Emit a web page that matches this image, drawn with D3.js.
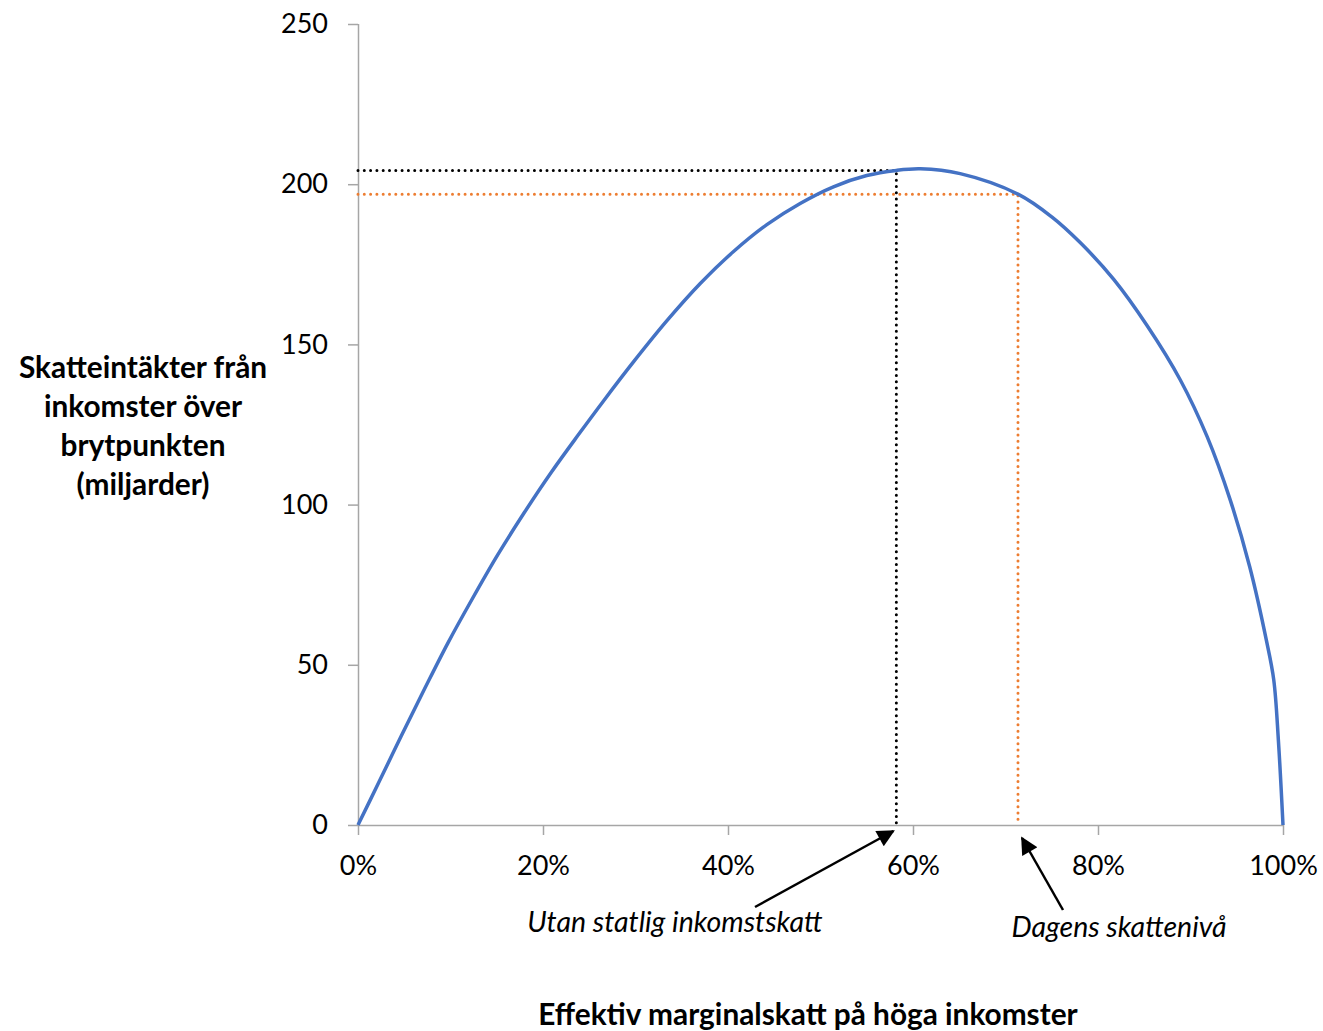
<!DOCTYPE html>
<html lang="sv">
<head>
<meta charset="UTF-8">
<title>Lafferkurva</title>
<script src="https://d3js.org/d3.v7.min.js"></script>
<style>
  body{margin:0;background:#fff;}
  svg{display:block;font-family:Lato,"Open Sans",sans-serif;}
</style>
</head>
<body>
<svg width="1323" height="1031"></svg>
<script>
// curve: marginal tax rate (share) -> revenue (miljarder)
const taxRate = [0, 0.022, 0.047, 0.072, 0.097, 0.123, 0.151, 0.18, 0.209, 0.238, 0.265, 0.298, 0.334, 0.37, 0.406, 0.442, 0.478, 0.514, 0.55, 0.582, 0.608, 0.651, 0.7135, 0.75, 0.781, 0.817, 0.853, 0.889, 0.918, 0.943, 0.964, 0.982, 0.99, 0.995, 1.0]
const revenue = [0, 13.0, 27.9, 42.5, 56.7, 70.3, 84.3, 97.6, 110.1, 121.7, 132.2, 144.6, 157.4, 169.0, 179.0, 187.4, 194.0, 199.2, 202.7, 204.3, 204.8, 203.3, 196.9, 189.8, 181.7, 170.3, 155.9, 138.9, 121.2, 101.4, 80.6, 57.7, 45.3, 26.5, 0]

const yTicks = [0, 50, 100, 150, 200, 250]
const xTicks = [0, 0.2, 0.4, 0.6, 0.8, 1.0]

// the two marked points
const noStateTax = {x: 0.582, y: 204.3}
const todayLevel = {x: 0.7135, y: 196.9}

const yTitle = ["Skatteintäkter från", "inkomster över", "brytpunkten", "(miljarder)"]
const xTitle = "Effektiv marginalskatt på höga inkomster"

const svg = d3.select("svg")
const x = d3.scaleLinear().domain([0, 1]).range([358, 1283])
const y = d3.scaleLinear().domain([0, 250]).range([825, 24])

// axes
const gx = svg.append("g").attr("transform", "translate(0,825)")
    .call(d3.axisBottom(x).tickValues(xTicks).tickFormat(d3.format(".0%")).tickSize(10).tickPadding(12))
const gy = svg.append("g").attr("transform", "translate(358,0)")
    .call(d3.axisLeft(y).tickValues(yTicks).tickSize(10).tickPadding(20))
svg.selectAll("g").attr("font-family", null).attr("font-size", 27)
svg.selectAll(".domain, .tick line").attr("stroke", "#a6a6a6").attr("stroke-width", 1.5)
gx.select(".domain").attr("d", "M358,0.5H1283.5")
gy.select(".domain").attr("d", "M0.5,24V825")
gx.selectAll(".tick text").attr("dy", "1.05em")

// dotted guide lines
const guides = [
  {p: noStateTax, color: "#000"},
  {p: todayLevel, color: "#ed7d31"}
]
guides.forEach(g => {
  svg.append("path")
    .attr("d", `M${x(0)},${y(g.p.y)}H${x(g.p.x)}V${y(0)}`)
    .attr("fill", "none")
    .attr("stroke", g.color)
    .attr("stroke-width", 3)
    .attr("stroke-linecap", "round")
    .attr("stroke-dasharray", "0 6.3")
})

// curve
const pts = taxRate.map((t, i) => [t, revenue[i]])
svg.append("path")
  .datum(pts)
  .attr("d", d3.line().x(d => x(d[0])).y(d => y(d[1])).curve(d3.curveCatmullRom.alpha(0.5)))
  .attr("fill", "none")
  .attr("stroke", "#4472c4")
  .attr("stroke-width", 3.5)

// arrows
svg.append("defs").append("marker")
  .attr("id", "head").attr("viewBox", "0 0 10 10")
  .attr("refX", 9).attr("refY", 5)
  .attr("markerWidth", 8).attr("markerHeight", 7).attr("markerUnits", "strokeWidth")
  .attr("orient", "auto")
  .append("path").attr("d", "M0,0L10,5L0,10z").attr("fill", "#000")

const arrows = [
  {from: [755, 907], to: [x(noStateTax.x) - 3, 831], label: "Utan statlig inkomstskatt", lx: 675, ly: 932},
  {from: [1063, 910], to: [x(todayLevel.x) + 4, 838], label: "Dagens skattenivå", lx: 1119, ly: 937}
]
arrows.forEach(a => {
  svg.append("line")
    .attr("x1", a.from[0]).attr("y1", a.from[1])
    .attr("x2", a.to[0]).attr("y2", a.to[1])
    .attr("stroke", "#000").attr("stroke-width", 2.5)
    .attr("marker-end", "url(#head)")
  svg.append("text")
    .attr("x", a.lx).attr("y", a.ly)
    .attr("text-anchor", "middle")
    .attr("font-size", 28.5).attr("font-style", "italic")
    .text(a.label)
})

// axis titles
svg.append("text")
  .attr("x", 808).attr("y", 1025)
  .attr("text-anchor", "middle")
  .attr("font-size", 29.8).attr("font-weight", "bold")
  .text(xTitle)

svg.append("text")
  .attr("text-anchor", "middle")
  .attr("font-size", 29.8).attr("font-weight", "bold")
  .selectAll("tspan").data(yTitle).join("tspan")
  .attr("x", 143).attr("y", (d, i) => 378 + i * 39)
  .text(d => d)
</script>
</body>
</html>
